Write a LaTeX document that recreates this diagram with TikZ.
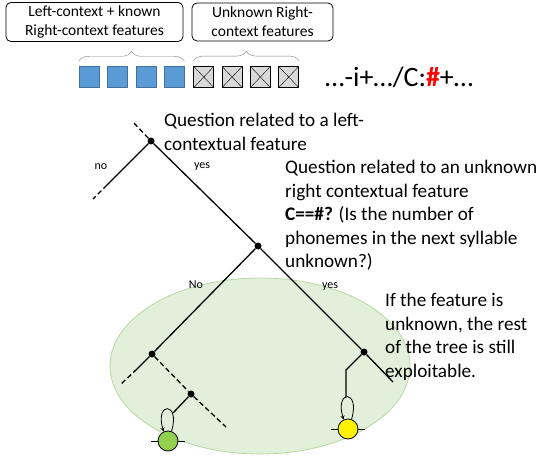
\documentclass[tikz,border=0pt]{standalone}
\usepackage{fontspec}
\setmainfont{Carlito}
\usepackage{xcolor}
\usepackage{tikz}
\usetikzlibrary{shapes.geometric, arrows, positioning, decorations.pathreplacing}
\definecolor{knownblue}{RGB}{91,155,213}
\definecolor{knownedge}{RGB}{65,113,156}
\definecolor{zonefill}{RGB}{226,239,218}
\definecolor{zoneedge}{RGB}{184,216,160}
\definecolor{leafgreen}{RGB}{146,208,80}
\tikzstyle{infobox} = [rectangle, rounded corners=5pt, draw=black, thick, align=center, font=\fontsize{15.5}{19}\selectfont]
\tikzstyle{known} = [rectangle, minimum width=20pt, minimum height=21pt, inner sep=0pt, draw=knownedge, fill=knownblue]
\tikzstyle{unknown} = [rectangle, minimum width=20pt, minimum height=21pt, inner sep=0pt, draw=black, thick, fill=gray!30, path picture={\draw[thin] (path picture bounding box.north west) -- (path picture bounding box.south east) (path picture bounding box.south west) -- (path picture bounding box.north east);}]
\tikzstyle{featbrace} = [decorate, decoration={brace, amplitude=10pt}, draw=gray]
\tikzstyle{dot} = [circle, fill=black, inner sep=0pt, minimum size=7pt]
\tikzstyle{edge} = [line width=1.3pt]
\tikzstyle{dashededge} = [line width=1.3pt, dash pattern=on 5pt off 3pt]
\tikzstyle{leaf} = [circle, draw=black, thick, minimum size=20pt, inner sep=0pt]
\tikzstyle{selfloop} = [thick, ->, >=stealth]
\tikzstyle{question} = [anchor=north west, inner sep=0pt, align=left, font=\fontsize{19.2}{23.5}\selectfont]
\tikzstyle{answer} = [font=\fontsize{12}{14}\selectfont]

\begin{document}
\begin{tikzpicture}[x=1pt, y=-1pt]
    \useasboundingbox (0,0) rectangle (543,457);
    % Zone where the unknown feature is used
    \node[ellipse, minimum width=300pt, minimum height=176pt, fill=zonefill, draw=zoneedge, thick] (zone) at (260,366) {};

    % Top row: feature groups
    \node[infobox, minimum width=177pt, minimum height=38pt] (leftbox) at (94.5,22) {Left-context + known\\Right-context features};
    \node[infobox, minimum width=141pt, minimum height=38pt] (rightbox) at (262.5,22) {Unknown Right-\\context features};

    % Feature vector
    \node[known] (k1) at (89,77) {};
    \node[known, right=8pt of k1] (k2) {};
    \node[known, right=8pt of k2] (k3) {};
    \node[known, right=8pt of k3] (k4) {};
    \node[unknown, right=9pt of k4] (u1) {};
    \node[unknown, right=7.5pt of u1] (u2) {};
    \node[unknown, right=7.5pt of u2] (u3) {};
    \node[unknown, right=7.5pt of u3] (u4) {};
    \draw[featbrace] ([yshift=5pt]k1.north west) -- ([yshift=5pt]k4.north east);
    \draw[featbrace] ([yshift=5pt]u1.north west) -- ([yshift=5pt]u4.north east);
    \node[anchor=west, inner sep=0pt, font=\fontsize{28}{32}\selectfont] (seq) at (325,77) {\ldots-i+\ldots/C:\textcolor{red}{\textbf{\#}}+\ldots};

    % Tree
    \node[dot] (q1) at (151,141) {};
    \node[dot] (q2) at (258,246) {};
    \node[dot] (q3) at (152,354) {};
    \node[dot] (q4) at (364,352) {};
    \node[dot] (q5) at (191,394) {};
    \coordinate (q1up) at (133,122);
    \coordinate (nomid) at (107,185);
    \coordinate (noend) at (93,199);
    \coordinate (q3mid) at (137,369);
    \coordinate (q3end) at (120,385);
    \coordinate (q5end) at (226,427);
    \coordinate (q4end) at (393,382);
    \coordinate (q4bend) at (346,370);
    \coordinate (q4down) at (346,397);
    \coordinate (loopin) at (173,413);

    \draw[dashededge] (q1) -- (q1up);
    \draw[edge] (q1) -- (nomid);
    \draw[dashededge] (nomid) -- (noend);
    \draw[edge] (q1) -- (q2);
    \draw[edge] (q2) -- (q3);
    \draw[edge] (q2) -- (q4);
    \draw[edge] (q3) -- (q3mid);
    \draw[dashededge] (q3mid) -- (q3end);
    \draw[dashededge] (q3) -- (q5);
    \draw[dashededge] (q5) -- (q5end);
    \draw[edge] (q5) -- (loopin);
    \draw[edge] (q4) -- (q4end);
    \draw[edge] (q4) -- (q4bend) -- (q4down);

    % Leaves
    \node[leaf, fill=leafgreen] (leafA) at (168,441) {};
    \node[leaf, fill=yellow] (leafB) at (348,429) {};
    \draw[thick] ([xshift=-7pt]leafA.west) -- (leafA.west) (leafA.east) -- ([xshift=7pt]leafA.east);
    \draw[thick] ([xshift=-7pt]leafB.west) -- (leafB.west) (leafB.east) -- ([xshift=7pt]leafB.east);
    \draw[selfloop] (leafA.70) .. controls +(9,-30) and +(-9,-30) .. (leafA.115);
    \draw[selfloop] (leafB.70) .. controls +(9,-30) and +(-9,-30) .. (leafB.115);

    % Branch labels
    \node[answer] (no1) at (101,167) {no};
    \node[answer] (yes1) at (202,167) {yes};
    \node[answer] (no2) at (196,285) {No};
    \node[answer] (yes2) at (330,287) {yes};

    % Comments
    \node[question] (leftq) at (164,113) {Question related to a left-\\contextual feature};
    \node[question] (rightq) at (285,160) {Question related to an unknown\\right contextual feature\\\textbf{C==\#?} (Is the number of\\phonemes in the next syllable\\unknown?)};
    \node[question] (note) at (385,293) {If the feature is\\unknown, the rest\\of the tree is still\\exploitable.};
\end{tikzpicture}
\end{document}
